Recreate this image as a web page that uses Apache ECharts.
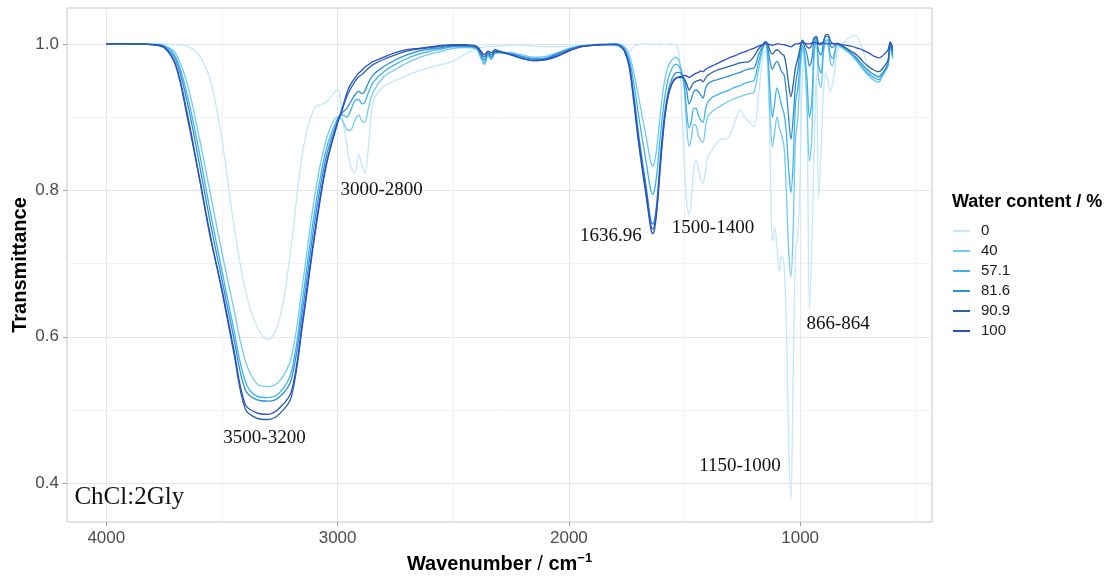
<!DOCTYPE html>
<html>
<head>
<meta charset="utf-8">
<script src="https://cdn.jsdelivr.net/npm/echarts@6/dist/echarts.min.js"></script>
<style>
  html, body { margin: 0; padding: 0; background: #ffffff; }
  #chart { width: 1115px; height: 576px; }
</style>
</head>
<body>
<div id="chart"></div>
<script>
// FTIR spectra of ChCl:2Gly at different water contents (transmittance vs wavenumber)
const wavenumber = [
  4000, 3900, 3800, 3750, 3700, 3650, 3600, 3550, 3500, 3450, 3400, 3350, 3300, 3250, 3200, 3150, 3100, 3050,
  3000, 2980, 2960, 2945, 2926, 2909, 2895, 2883, 2865, 2845, 2800, 2750, 2700, 2650, 2600, 2550, 2500,
  2450, 2400, 2380, 2365, 2350, 2335, 2320, 2300, 2250, 2200, 2150, 2100, 2050, 2000, 1950, 1900, 1850,
  1800, 1780, 1760, 1740, 1720, 1700, 1680, 1665, 1655, 1645, 1637, 1630, 1620, 1610, 1600, 1585, 1570, 1555, 1540, 1525,
  1510, 1500, 1490, 1480, 1470, 1460, 1450, 1440, 1430, 1420, 1410, 1400, 1380, 1360, 1340, 1320, 1300, 1280, 1260, 1240, 1220,
  1200, 1180, 1160, 1150, 1140, 1130, 1120, 1110, 1100, 1090, 1080, 1070, 1060, 1050, 1040, 1030, 1020, 1010, 1000, 990,
  980, 970, 960, 950, 940, 930, 920, 910, 900, 890, 880, 870, 860, 850, 840, 820, 800, 780, 760, 740,
  720, 700, 680, 660, 650, 640, 630, 620, 610, 600
];

const t0 = [
  1.0, 1.0, 1.0, 1.0, 0.999, 0.997, 0.985, 0.95, 0.87, 0.755, 0.665, 0.615, 0.596, 0.625, 0.725, 0.855, 0.912, 0.92,
  0.938, 0.9, 0.862, 0.835, 0.824, 0.848, 0.835, 0.823, 0.865, 0.922, 0.942, 0.95, 0.957, 0.963, 0.968, 0.972, 0.976,
  0.986, 0.993, 0.995, 0.996, 0.997, 0.996, 0.997, 0.997, 0.998, 0.998, 0.997, 0.996, 0.996, 0.997, 0.998, 0.999, 0.998,
  0.997, 0.995, 0.992, 0.989, 0.996, 0.999, 1.0, 1.0, 0.999, 1.0, 1.0, 1.0, 0.999, 1.0, 1.0, 0.999, 1.0, 1.0, 0.999, 0.99,
  0.9, 0.83, 0.78, 0.767, 0.79, 0.83, 0.842, 0.83, 0.815, 0.81, 0.825, 0.845, 0.855, 0.865, 0.87, 0.87, 0.878, 0.895, 0.91, 0.9, 0.893,
  0.887, 0.93, 0.985, 0.99, 0.96, 0.85, 0.73, 0.75, 0.72, 0.69, 0.71, 0.7, 0.62, 0.46, 0.378, 0.55, 0.72, 0.74, 0.82, 0.96,
  0.98, 0.9, 0.638, 0.72, 0.85, 0.96, 0.79, 0.85, 0.93, 0.96, 0.95, 0.935, 0.945, 0.965, 0.99, 1.0, 1.005, 1.01, 1.012, 1.0,
  0.982, 0.962, 0.95, 0.947, 0.952, 0.958, 0.965, 0.978, 0.99, 0.985
];

const t40 = [
  1.0, 1.0, 1.0, 0.998, 0.987, 0.945, 0.875, 0.795, 0.715, 0.64, 0.568, 0.536, 0.532, 0.54, 0.572, 0.675, 0.79, 0.868,
  0.9, 0.896, 0.883, 0.882, 0.895, 0.903, 0.895, 0.893, 0.915, 0.935, 0.955, 0.965, 0.974, 0.981, 0.986, 0.99, 0.994,
  0.995, 0.993, 0.98, 0.975, 0.985, 0.98, 0.988, 0.989, 0.988, 0.985, 0.982, 0.983, 0.988, 0.994, 0.997, 0.999, 1.0,
  1.0, 0.999, 0.996, 0.986, 0.962, 0.93, 0.896, 0.872, 0.853, 0.837, 0.833, 0.838, 0.858, 0.888, 0.918, 0.952, 0.97, 0.978, 0.982, 0.978,
  0.96, 0.935, 0.885, 0.86, 0.872, 0.89, 0.888, 0.875, 0.868, 0.866, 0.885, 0.9, 0.908, 0.912, 0.916, 0.92, 0.923, 0.926, 0.928, 0.93, 0.932,
  0.934, 0.965, 0.995, 1.002, 0.975, 0.9, 0.86, 0.88, 0.9, 0.885, 0.875, 0.86, 0.8, 0.72, 0.682, 0.75, 0.87, 0.9, 0.96, 0.993,
  0.975, 0.91, 0.84, 0.87, 0.985, 1.005, 0.95, 0.94, 0.985, 1.003, 1.0, 0.975, 0.97, 0.985, 0.998, 0.995, 0.99, 0.985, 0.978, 0.97,
  0.962, 0.955, 0.95, 0.948, 0.952, 0.958, 0.963, 0.97, 0.995, 0.98
];

const t57 = [
  1.0, 1.0, 0.999, 0.997, 0.982, 0.93, 0.855, 0.77, 0.69, 0.612, 0.54, 0.519, 0.517, 0.524, 0.552, 0.655, 0.77, 0.855,
  0.898, 0.903, 0.9, 0.908, 0.922, 0.924, 0.918, 0.92, 0.935, 0.948, 0.962, 0.972, 0.98, 0.986, 0.99, 0.993, 0.996,
  0.996, 0.994, 0.982, 0.972, 0.984, 0.979, 0.987, 0.988, 0.987, 0.983, 0.98, 0.981, 0.987, 0.993, 0.997, 0.998, 0.999,
  1.0, 0.999, 0.994, 0.98, 0.948, 0.905, 0.865, 0.837, 0.816, 0.799, 0.795, 0.8, 0.822, 0.855, 0.888, 0.928, 0.953, 0.966, 0.972, 0.97,
  0.958, 0.94, 0.905, 0.885, 0.895, 0.912, 0.912, 0.902, 0.896, 0.893, 0.91, 0.92, 0.927, 0.93, 0.933, 0.935, 0.938, 0.941, 0.943, 0.946, 0.948,
  0.95, 0.975, 0.997, 1.003, 0.985, 0.935, 0.9, 0.92, 0.94, 0.93, 0.915, 0.905, 0.88, 0.83, 0.797, 0.84, 0.92, 0.94, 0.975, 0.998,
  0.985, 0.95, 0.9, 0.92, 0.99, 1.008, 0.97, 0.96, 0.99, 1.005, 1.005, 0.985, 0.98, 0.99, 1.0, 0.996, 0.992, 0.987, 0.98, 0.972,
  0.964, 0.958, 0.954, 0.951, 0.955, 0.96, 0.965, 0.972, 0.998, 0.982
];

const t81 = [
  1.0, 1.0, 0.999, 0.996, 0.978, 0.92, 0.84, 0.755, 0.678, 0.6, 0.528, 0.514, 0.512, 0.518, 0.542, 0.64, 0.755, 0.845,
  0.895, 0.906, 0.912, 0.92, 0.93, 0.935, 0.932, 0.935, 0.948, 0.958, 0.969, 0.978, 0.985, 0.99, 0.993, 0.995, 0.997,
  0.997, 0.995, 0.985, 0.978, 0.986, 0.982, 0.988, 0.988, 0.986, 0.982, 0.979, 0.98, 0.986, 0.992, 0.997, 0.998, 0.999,
  1.0, 0.998, 0.992, 0.974, 0.932, 0.88, 0.835, 0.803, 0.779, 0.758, 0.754, 0.759, 0.783, 0.822, 0.862, 0.908, 0.936, 0.952, 0.96, 0.961,
  0.958, 0.95, 0.935, 0.918, 0.925, 0.935, 0.937, 0.935, 0.93, 0.926, 0.938, 0.945, 0.949, 0.951, 0.953, 0.955, 0.957, 0.959, 0.961, 0.964, 0.966,
  0.967, 0.985, 0.998, 1.003, 0.995, 0.975, 0.965, 0.972, 0.976, 0.97, 0.962, 0.958, 0.935, 0.9, 0.87, 0.9, 0.945, 0.965, 0.99, 1.003,
  0.995, 0.985, 0.97, 0.978, 1.005, 1.01, 0.99, 0.985, 1.0, 1.01, 1.01, 0.998, 0.995, 0.998, 1.0, 0.997, 0.993, 0.988, 0.982, 0.975,
  0.968, 0.962, 0.958, 0.955, 0.958, 0.962, 0.967, 0.973, 1.0, 0.985
];

const t90 = [
  1.0, 1.0, 0.999, 0.995, 0.972, 0.905, 0.822, 0.738, 0.662, 0.58, 0.502, 0.489, 0.487, 0.495, 0.518, 0.62, 0.735, 0.832,
  0.892, 0.91, 0.928, 0.938, 0.948, 0.955, 0.958, 0.962, 0.967, 0.972, 0.979, 0.985, 0.99, 0.993, 0.995, 0.997, 0.998,
  0.998, 0.996, 0.988, 0.982, 0.988, 0.985, 0.99, 0.989, 0.985, 0.98, 0.977, 0.979, 0.984, 0.991, 0.996, 0.998, 0.999,
  0.999, 0.997, 0.991, 0.972, 0.927, 0.873, 0.828, 0.796, 0.772, 0.751, 0.747, 0.752, 0.776, 0.815, 0.855, 0.902, 0.93, 0.945, 0.952, 0.954,
  0.954, 0.952, 0.945, 0.937, 0.942, 0.947, 0.949, 0.95, 0.951, 0.948, 0.953, 0.957, 0.961, 0.964, 0.966, 0.968, 0.97, 0.972, 0.974, 0.975, 0.976,
  0.983, 0.993, 1.0, 1.003, 1.0, 0.99, 0.986, 0.99, 0.992, 0.99, 0.986, 0.984, 0.97, 0.945, 0.928, 0.945, 0.968, 0.98, 0.995, 1.005,
  1.0, 0.996, 0.994, 0.998, 1.008, 1.01, 1.0, 0.999, 1.003, 1.012, 1.013, 1.005, 1.0, 1.0, 1.001, 0.998, 0.994, 0.99, 0.986, 0.98,
  0.973, 0.968, 0.964, 0.962, 0.964, 0.968, 0.972, 0.978, 1.003, 0.99
];

const t100 = [
  1.0, 1.0, 0.999, 0.995, 0.97, 0.9, 0.82, 0.735, 0.665, 0.585, 0.508, 0.496, 0.494, 0.503, 0.525, 0.625, 0.74, 0.835,
  0.893, 0.912, 0.933, 0.944, 0.953, 0.96, 0.964, 0.968, 0.972, 0.976, 0.982, 0.988, 0.992, 0.994, 0.996, 0.998, 0.999,
  0.999, 0.997, 0.99, 0.985, 0.99, 0.988, 0.992, 0.99, 0.985, 0.98, 0.977, 0.978, 0.983, 0.99, 0.996, 0.998, 0.999,
  0.999, 0.997, 0.99, 0.97, 0.922, 0.868, 0.822, 0.79, 0.767, 0.746, 0.741, 0.746, 0.77, 0.81, 0.85, 0.9, 0.93, 0.946, 0.953, 0.955,
  0.956, 0.957, 0.956, 0.954, 0.956, 0.958, 0.96, 0.961, 0.963, 0.962, 0.965, 0.967, 0.97, 0.973, 0.976, 0.979, 0.982, 0.984, 0.987, 0.989, 0.992,
  0.994, 0.997, 0.999, 1.0, 1.0, 0.999, 0.998, 0.999, 1.0, 1.0, 0.999, 0.999, 0.998, 0.997, 0.996, 0.998, 1.0, 1.0, 1.001, 1.002,
  1.001, 1.0, 1.0, 1.001, 1.002, 1.001, 1.0, 1.001, 1.002, 1.0, 1.0, 1.0, 1.001, 1.0, 1.0, 0.999, 0.998, 0.997, 0.995, 0.993,
  0.99, 0.987, 0.983, 0.981, 0.982, 0.985, 0.988, 0.992, 1.002, 0.995
];

const seriesNames = ['0', '40', '57.1', '81.6', '90.9', '100'];
const seriesValues = [t0, t40, t57, t81, t90, t100];
const seriesColors = ['#c4e7f9', '#70caf2', '#3db3ee', '#2d8fd5', '#2b62a3', '#2b4fc6'];

const xTickLabels = [1000, 2000, 3000, 4000];
const xMinorTicks = [500, 1500, 2500, 3500];
const yTickLabels = [0.4, 0.6, 0.8, 1.0];
const yMinorTicks = [0.5, 0.7, 0.9];

// band annotations: text, wavenumber, transmittance
const annotations = [
  ['3000-2800', 2810, 0.800],
  ['3500-3200', 3316, 0.462],
  ['1636.96', 1818, 0.737],
  ['1500-1400', 1377, 0.749],
  ['1150-1000', 1260, 0.424],
  ['866-864', 836, 0.618]
];
const sampleName = ['ChCl:2Gly', 4138, 0.381];

const majorGrid = '#e6e6e6';
const minorGrid = '#f2f2f2';
const sansFont = 'Liberation Sans, Arial, sans-serif';

const xBase = { type: 'value', inverse: true, min: 430, max: 4170, gridIndex: 0 };
const yBase = { type: 'value', min: 0.347, max: 1.049, gridIndex: 0 };

const chart = echarts.init(document.getElementById('chart'), null, { renderer: 'canvas' });

chart.setOption({
  animation: false,
  backgroundColor: '#ffffff',
  grid: {
    left: 67, right: 183, top: 8, bottom: 54,
    outerBoundsMode: 'none',
    containLabel: false,
    show: true, borderColor: '#c8c8c8', borderWidth: 1, backgroundColor: 'transparent'
  },
  xAxis: [
    Object.assign({}, xBase, {
      name: '{b|Wavenumber}{s| / }{b|cm}{sup|−1}',
      nameLocation: 'middle',
      nameGap: 30,
      nameTextStyle: {
        rich: {
          b: { fontFamily: sansFont, fontSize: 20, fontWeight: 'bold', color: '#000', lineHeight: 24 },
          s: { fontFamily: sansFont, fontSize: 20, fontWeight: 'normal', color: '#000', lineHeight: 24 },
          sup: { fontFamily: sansFont, fontSize: 13, fontWeight: 'bold', color: '#000', verticalAlign: 'top', lineHeight: 12 }
        }
      },
      axisLine: { show: false },
      axisTick: { show: true, length: 4, lineStyle: { color: '#a0a0a0' }, customValues: xTickLabels },
      axisLabel: {
        customValues: xTickLabels, margin: 8,
        color: '#4d4d4d', fontSize: 17, fontFamily: sansFont,
        formatter: v => String(v)
      },
      splitLine: { show: true, lineStyle: { color: majorGrid, width: 1 } }
    }),
    Object.assign({}, xBase, {
      axisLine: { show: false },
      axisTick: { show: false, customValues: xMinorTicks },
      axisLabel: { show: false, customValues: xMinorTicks },
      splitLine: { show: true, lineStyle: { color: minorGrid, width: 1 } }
    })
  ],
  yAxis: [
    Object.assign({}, yBase, {
      name: 'Transmittance',
      nameLocation: 'middle',
      nameGap: 37,
      nameMoveOverlap: false,
      nameTextStyle: { fontFamily: sansFont, fontSize: 20, fontWeight: 'bold', color: '#000' },
      axisLine: { show: false },
      axisTick: { show: true, length: 4, lineStyle: { color: '#a0a0a0' }, customValues: yTickLabels },
      axisLabel: {
        customValues: yTickLabels, margin: 8,
        color: '#4d4d4d', fontSize: 17, fontFamily: sansFont,
        formatter: v => v.toFixed(1)
      },
      splitLine: { show: true, lineStyle: { color: majorGrid, width: 1 } }
    }),
    Object.assign({}, yBase, {
      axisLine: { show: false },
      axisTick: { show: false, customValues: yMinorTicks },
      axisLabel: { show: false, customValues: yMinorTicks },
      splitLine: { show: true, lineStyle: { color: minorGrid, width: 1 } }
    })
  ],
  legend: {
    orient: 'vertical',
    left: 948, top: 218,
    itemWidth: 17, itemHeight: 2, itemGap: 4,
    icon: 'rect',
    data: seriesNames,
    textStyle: {
      color: '#1a1a1a', fontSize: 15, lineHeight: 16,
      fontFamily: sansFont,
      padding: [0, 0, 0, 6]
    }
  },
  series: seriesNames.map((name, i) => ({
    type: 'line',
    name: name,
    xAxisIndex: 0,
    yAxisIndex: 0,
    color: seriesColors[i],
    data: wavenumber.map((w, k) => [w, seriesValues[i][k]]),
    showSymbol: false,
    symbol: 'none',
    smooth: 0.35,
    lineStyle: { width: 1.3, color: seriesColors[i] },
    emphasis: { disabled: true },
    z: 2 + i
  }))
});

// text placed at data coordinates through the grid
const textEls = annotations.map(([txt, w, t]) => {
  const p = chart.convertToPixel({ gridIndex: 0 }, [w, t]);
  return {
    type: 'text', x: p[0], y: p[1], z: 20,
    style: {
      text: txt, align: 'center', verticalAlign: 'middle',
      fontFamily: 'Liberation Serif, Times New Roman, serif', fontSize: 19, fill: '#111'
    }
  };
});
const sp = chart.convertToPixel({ gridIndex: 0 }, [sampleName[1], sampleName[2]]);
textEls.push({
  type: 'text', x: sp[0], y: sp[1], z: 20,
  style: {
    text: sampleName[0], align: 'left', verticalAlign: 'middle',
    fontFamily: 'Liberation Serif, Times New Roman, serif', fontSize: 25, fill: '#111'
  }
});
textEls.push({
  type: 'text', left: 952, top: 193, z: 20,
  style: {
    text: 'Water content / %',
    fontFamily: sansFont, fontSize: 18, fontWeight: 'bold', fill: '#000'
  }
});
chart.setOption({ graphic: textEls });
</script>
</body>
</html>
